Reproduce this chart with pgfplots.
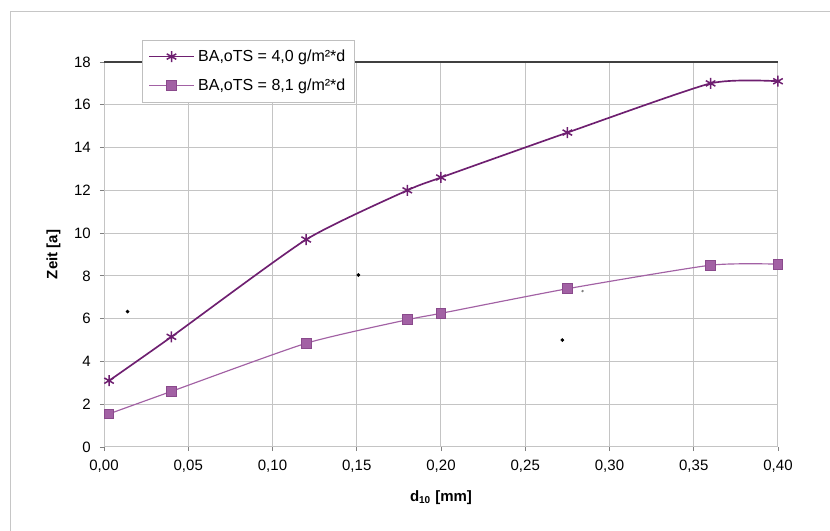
\documentclass[border=0pt]{standalone}
\usepackage{pgfplots}
\pgfplotsset{compat=1.18}
\usepackage{fontspec}
\setmainfont{Liberation Sans}
\definecolor{serA}{HTML}{6E1F70}
\definecolor{serB}{HTML}{A261A4}
\definecolor{serBd}{HTML}{8A4A8C}
\definecolor{gridc}{HTML}{C4C4C4}
\begin{document}
\begin{tikzpicture}[x=0.6pt,y=0.6pt]
\useasboundingbox (0,0) rectangle (830,531);
\draw[color=gray!45, line width=0.6pt] (10,0) -- (10,519) -- (830,519);
\begin{axis}[
  at={(62.4pt,50.4pt)}, anchor=south west,
  scale only axis, width=404.4pt, height=231pt,
  xmin=0, xmax=0.4, ymin=0, ymax=18,
  xtick={0,0.05,...,0.4}, ytick={0,2,...,18},
  grid=major, grid style={gridc, line width=0.6pt},
  axis x line*=bottom, axis y line*=left,
  axis line style={gridc, line width=0.6pt},
  tick style={gray, line width=0.5pt},
  tick align=outside, major tick length=2.4pt,
  xticklabel style={/pgf/number format/fixed, /pgf/number format/fixed zerofill, /pgf/number format/precision=2, /pgf/number format/use comma},
  /pgf/number format/assume math mode=true,
  ticklabel style={font=\fontsize{9}{10}\selectfont, text=black},
  xticklabel style={yshift=-2pt},
  yticklabel style={xshift=-2pt},
  extra y ticks={18}, extra y tick labels={},
  extra y tick style={grid style={black!75, line width=1.3pt}, major tick length=0pt},
  xlabel={\textbf{d\textsubscript{10} [mm]}},
  ylabel={\textbf{Zeit [a]}},
  label style={font=\fontsize{9}{10}\selectfont},
  xlabel style={at={(axis description cs:0.5,-0.132)}, anchor=center},
  ylabel style={at={(axis description cs:-0.075,0.5)}, anchor=center},
  legend style={at={(0.0564,1.057)}, anchor=north west, draw=gray!50, fill=white,
     font=\fontsize{9.6}{11}\selectfont, row sep=5pt, inner xsep=3.5pt, inner ysep=3.5pt},
  legend cell align=left,
  legend image code/.code={\draw[#1] (0pt,0pt) -- (13.5pt,0pt) plot coordinates {(13.5pt,0pt)} -- (27pt,0pt);},
]
\addplot[serA, line width=1pt, smooth, tension=0.35, mark=asterisk, mark size=3.3pt, mark options={line width=0.9pt}]
  coordinates {(0.003,3.1) (0.04,5.15) (0.12,9.7) (0.18,12.0) (0.2,12.6) (0.275,14.7) (0.36,17.0) (0.4,17.1)};
\addlegendentry{BA,oTS = 4,0 g/m²*d}
\addplot[serB, line width=0.7pt, smooth, tension=0.35, mark=square*, mark size=2.9pt, mark options={fill=serB, draw=serBd, line width=0.5pt}]
  coordinates {(0.003,1.55) (0.04,2.6) (0.12,4.85) (0.18,5.95) (0.2,6.25) (0.275,7.4) (0.36,8.5) (0.4,8.55)};
\addlegendentry{BA,oTS = 8,1 g/m²*d}
\addplot[only marks, mark=*, mark size=0.9pt, black, forget plot]
  coordinates {(0.014,6.33) (0.151,8.04) (0.272,5.0)};
\addplot[only marks, mark=*, mark size=0.5pt, black!50, forget plot]
  coordinates {(0.284,7.29)};
\end{axis}
\end{tikzpicture}
\end{document}
